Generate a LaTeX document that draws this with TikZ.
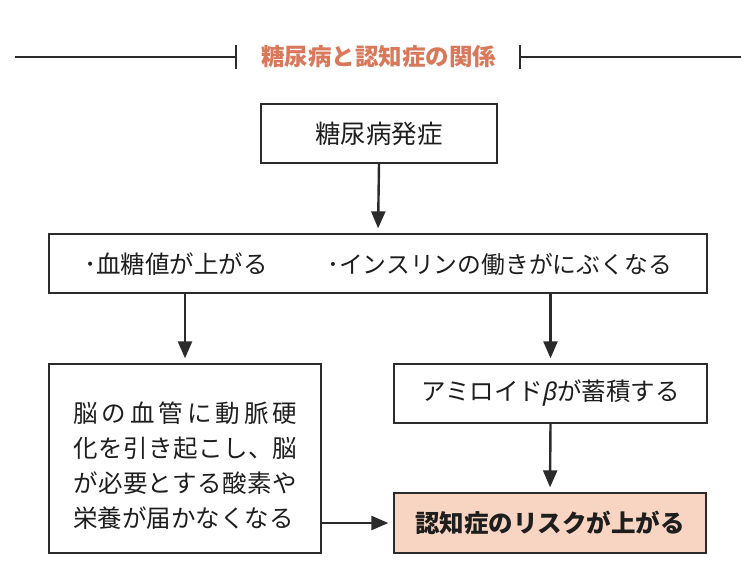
\documentclass[tikz,border=0pt]{standalone}
\usepackage{fontspec}
\newfontfamily\jp{Noto Sans CJK JP}
\newfontfamily\grk{Noto Sans}
\usetikzlibrary{arrows.meta}
\definecolor{ttl}{HTML}{D9785A}
\definecolor{pinkfill}{HTML}{F8D5C3}
\definecolor{ln}{HTML}{2B2B2B}
\definecolor{txt}{HTML}{1E1E1E}
\begin{document}
\begin{tikzpicture}[x=1pt,y=-1pt,
  box/.style={draw=ln,line width=1.3pt,rectangle,inner sep=0pt,font=\jp\fontsize{24.5}{30}\selectfont,text=txt},
  jtext/.style={inner sep=0pt,font=\jp\fontsize{24.5}{30}\selectfont,text=txt},
  arr/.style={draw=ln,line width=2.4pt,-{Triangle[width=14pt,length=17pt]},shorten >=5pt},
  rulel/.style={draw=ln,line width=1.3pt}]
\useasboundingbox (0,0) rectangle (750,568);
\fill[white] (0,0) rectangle (750,568);

% title
\node[inner sep=0pt,font=\jp\bfseries\fontsize{23.5}{28}\selectfont,text=ttl] (title) at (378.5,57) {糖尿病と認知症の関係};
\coordinate (lL) at (15,57);
\coordinate (tL) at (236,57);
\coordinate (tR) at (520,57);
\coordinate (lR) at (741,57);
\draw[rulel] (lL) -- (tL);
\draw[rulel] (tR) -- (lR);
\draw[rulel] ([yshift=-12pt]tL) -- ([yshift=12pt]tL);
\draw[rulel] ([yshift=-12pt]tR) -- ([yshift=12pt]tR);

% boxes
\node[box,minimum width=236pt,minimum height=59pt,font=\jp\fontsize{25.5}{30}\selectfont] (b1) at (379,133.5) {糖尿病発症};
\node[box,minimum width=658pt,minimum height=59pt] (b2) at (378,263.5) {};
\node[jtext,anchor=west] (i1) at (84,264) {･血糖値が上がる};
\node[jtext,anchor=west,font=\jp\fontsize{23.8}{30}\selectfont] (i2) at (327,264) {･インスリンの働きがにぶくなる};

\node[box,minimum width=272pt,minimum height=189pt] (b3) at (185,458.5) {};
\node[jtext,anchor=base west] (t1) at (73,422) {\makebox[224pt][s]{脳\hfil の\hfil 血\hfil 管\hfil に\hfil 動\hfil 脈\hfil 硬}};
\node[jtext,anchor=base west] (t2) at (73,457) {\makebox[224pt][s]{化\hfil を\hfil 引\hfil き\hfil 起\hfil こ\hfil し\hfil 、脳}};
\node[jtext,anchor=base west] (t3) at (73,492) {\makebox[224pt][s]{が\hfil 必\hfil 要\hfil と\hfil す\hfil る\hfil 酸\hfil 素\hfil や}};
\node[jtext,anchor=base west] (t4) at (73,527) {栄養が届かなくなる};

\node[box,minimum width=313pt,minimum height=59pt] (b4) at (550.5,393.5) {アミロイド{\grk\itshape β}が蓄積する};
\node[box,fill=pinkfill,minimum width=312pt,minimum height=60pt,font=\jp\bfseries\fontsize{24.5}{30}\selectfont] (b5) at (550,523) {認知症のリスクが上がる};

% arrows
\draw[arr] (b1.south) -- (b2.north);
\draw[arr] (b3.north |- b2.south) -- (b3.north);
\draw[arr] (b4.north |- b2.south) -- (b4.north);
\draw[arr] (b4.south) -- (b5.north);
\draw[arr] (b3.east |- b5.west) -- (b5.west);
\end{tikzpicture}
\end{document}
